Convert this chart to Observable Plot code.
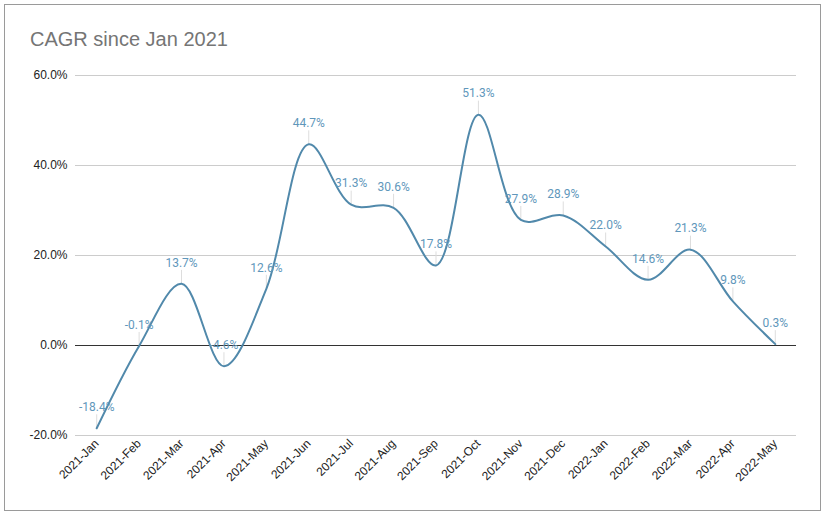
<!DOCTYPE html>
<html>
<head>
<meta charset="utf-8">
<script src="https://cdn.jsdelivr.net/npm/d3@7"></script>
<script src="https://cdn.jsdelivr.net/npm/@observablehq/plot@0.6"></script>
<style>
  html, body { margin: 0; padding: 0; background: #fff; }
  #wrap { position: relative; width: 825px; height: 516px; overflow: hidden; }
  #frame { position: absolute; left: 4px; top: 4px; width: 815px; height: 505px; border: 1.5px solid #9a9a9a; pointer-events: none; }
  #title { position: absolute; left: 30px; top: 28px; font-family: "Liberation Sans", Arial, sans-serif; font-size: 20px; color: #757575; white-space: nowrap; }
  #chart { position: absolute; left: 0; top: 0; }
</style>
</head>
<body>
<div id="wrap">
  <div id="chart"></div>
  <div id="frame"></div>
  <div id="title">CAGR since Jan 2021</div>
</div>
<script>
const months = ["2021-Jan","2021-Feb","2021-Mar","2021-Apr","2021-May","2021-Jun","2021-Jul","2021-Aug","2021-Sep","2021-Oct","2021-Nov","2021-Dec","2022-Jan","2022-Feb","2022-Mar","2022-Apr","2022-May"];
const cagr = [-18.4, -0.1, 13.7, -4.6, 12.6, 44.7, 31.3, 30.6, 17.8, 51.3, 27.9, 28.9, 22.0, 14.6, 21.3, 9.8, 0.3];
const yTicks = [-20, 0, 20, 40, 60];

const data = months.map((m, i) => ({month: m, value: cagr[i]}));
const fmt = v => v.toFixed(1) + "%";

const chart = Plot.plot({
  width: 825,
  height: 516,
  marginLeft: 75,
  marginRight: 29,
  marginTop: 75,
  marginBottom: 81,
  style: {fontFamily: "'Liberation Sans', Arial, sans-serif", fontSize: "12px", color: "#222", background: "transparent"},
  x: {type: "point", domain: months, padding: 0.5, round: false},
  y: {domain: [-20, 60]},
  marks: [
    Plot.ruleY(yTicks.filter(t => t !== 0), {stroke: "#cccccc", strokeWidth: 1}),
    Plot.axisY({ticks: yTicks, tickFormat: fmt, tickSize: 0, tickPadding: 8, label: null, fill: "#222", fontSize: 12}),
    Plot.axisX({tickRotate: -45, tickSize: 0, tickPadding: 6, label: null, fill: "#222", fontSize: 12}),
    Plot.ruleX(data, {x: "month", y1: "value", y2: d => d.value + 3.0, stroke: "#dddddd", strokeWidth: 1}),
    Plot.ruleY([0], {stroke: "#333333", strokeWidth: 1}),
    Plot.line(data, {x: "month", y: "value", curve: "catmull-rom", stroke: "#5189ab", strokeWidth: 2}),
    Plot.text(data, {x: "month", y: "value", text: d => fmt(d.value), dy: -21, fill: "#5f97bb", fontFamily: "Roboto, sans-serif", fontSize: 12})
  ]
});
document.getElementById("chart").appendChild(chart);
</script>
</body>
</html>
